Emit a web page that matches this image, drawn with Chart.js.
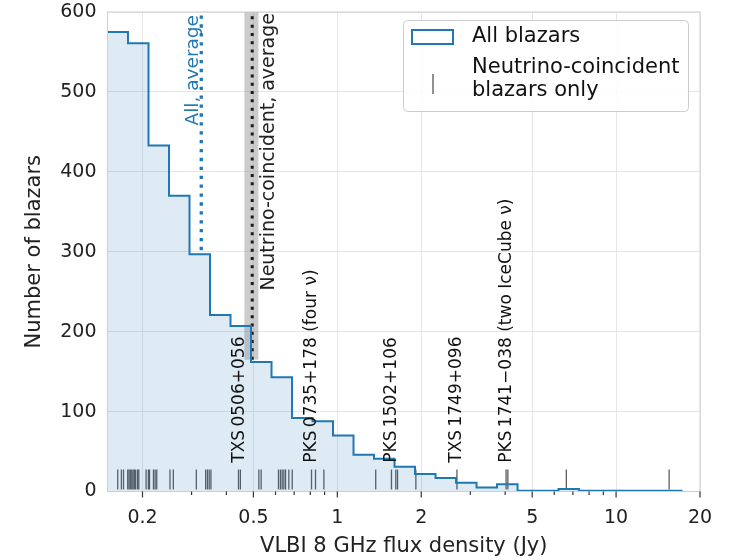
<!DOCTYPE html>
<html lang="en">
<head>
  <meta charset="UTF-8" />
  <title>VLBI 8 GHz flux density of blazars</title>
  <script src="https://cdn.jsdelivr.net/npm/chart.js"></script>
  <style>
    html, body { margin: 0; padding: 0; background: #ffffff; }
    #wrap { width: 738px; height: 560px; }
  </style>
</head>
<body>
  <div id="wrap"><canvas id="fluxChart" width="738" height="560"></canvas></div>

  <script>
    // histogram of all blazars: bin edges (Jy) and counts
    const binEdges = [0.1498, 0.1774, 0.2102, 0.2489, 0.2949, 0.3493, 0.4138, 0.4902,
      0.5807, 0.6879, 0.8148, 0.9650, 1.143, 1.354, 1.604, 1.900, 2.251, 2.666,
      3.158, 3.741, 4.431, 5.248, 6.217, 7.364, 8.723, 10.33, 12.24, 14.50, 17.17];
    const binCounts = [575, 561, 433, 370, 297, 221, 207, 162, 143, 92, 88, 70, 46, 41,
      31, 22, 17, 11, 5, 9, 1, 1, 3, 1, 1, 1, 1, 1];

    // neutrino-coincident blazars (rug ticks)
    const neutrinoFlux = [0.163, 0.168, 0.171, 0.177, 0.179, 0.181, 0.183, 0.185, 0.187,
      0.189, 0.192, 0.194, 0.206, 0.210, 0.212, 0.219, 0.222, 0.225, 0.251, 0.258,
      0.312, 0.337, 0.342, 0.347, 0.352, 0.442, 0.449, 0.523, 0.533, 0.615, 0.625,
      0.634, 0.643, 0.652, 0.670, 0.689, 0.808, 0.835, 0.895, 1.373, 1.564, 1.621,
      1.644, 1.913, 2.686, 4.03, 4.09, 6.63, 15.5];

    // averages: flux and vertical extent (counts)
    const allAverage = 0.325;
    const allAverageSpan = [302, 596];
    const neutrinoAverage = 0.495;
    const neutrinoAverageBand = [0.464, 0.521];
    const neutrinoAverageSpan = [165, 600];

    // labelled sources
    const sourceNames = ['TXS\u20090506+056', 'PKS\u20090735+178 (four \u03bd)', 'PKS\u20091502+106',
      'TXS\u20091749+096', 'PKS\u20091741\u2212038 (two IceCube \u03bd)'];
    const sourceFlux = [0.445, 0.808, 1.564, 2.686, 4.06];

    // axis ticks
    const xMajorTicks = [0.2, 0.5, 1, 2, 5, 10, 20];
    const xMinorTicks = [0.3, 0.4, 0.6, 0.7, 0.8, 0.9, 3, 4, 6, 7, 8, 9];
    const yTicks = [0, 100, 200, 300, 400, 500, 600];

    const blue = '#1f77b4';
    const font = '"DejaVu Sans", sans-serif';

    const histPoints = binCounts.map((c, i) => ({ x: binEdges[i], y: c }));
    histPoints.push({ x: binEdges[binEdges.length - 1], y: binCounts[binCounts.length - 1] });
    histPoints.push({ x: binEdges[binEdges.length - 1], y: 0 });

    function vText(ctx, text, x, y, align, color, size) {
      ctx.save();
      ctx.translate(x, y);
      ctx.rotate(-Math.PI / 2);
      ctx.textAlign = align;
      ctx.textBaseline = 'middle';
      ctx.fillStyle = color;
      ctx.font = size + 'px ' + font;
      ctx.fillText(text, 0, 0);
      ctx.restore();
    }

    const extras = {
      id: 'extras',
      beforeDatasetsDraw(chart) {
        const { ctx, scales: { x, y } } = chart;
        // grey band round the neutrino-coincident average
        const x0 = x.getPixelForValue(neutrinoAverageBand[0]);
        const x1 = x.getPixelForValue(neutrinoAverageBand[1]);
        const y0 = y.getPixelForValue(neutrinoAverageSpan[1]);
        const y1 = y.getPixelForValue(neutrinoAverageSpan[0]);
        ctx.save();
        ctx.fillStyle = 'rgba(128,128,128,0.4)';
        ctx.fillRect(x0, y0, x1 - x0, y1 - y0);
        ctx.restore();
      },
      afterDraw(chart) {
        const { ctx, chartArea: a, scales: { x, y } } = chart;
        ctx.save();
        // frame
        ctx.strokeStyle = '#cfcfcf';
        ctx.lineWidth = 1;
        ctx.strokeRect(a.left, a.top, a.right - a.left, a.bottom - a.top);
        // x tick marks
        ctx.strokeStyle = '#333333';
        ctx.lineWidth = 1.2;
        x.ticks.forEach(t => {
          const px = x.getPixelForValue(t.value);
          const len = xMajorTicks.includes(t.value) ? 6 : 3.5;
          ctx.beginPath();
          ctx.moveTo(px, a.bottom);
          ctx.lineTo(px, a.bottom + len);
          ctx.stroke();
        });
        ctx.restore();

        // average labels
        vText(ctx, 'All, average', x.getPixelForValue(allAverage) - 8, 15, 'right', blue, 18.5);
        vText(ctx, 'Neutrino-coincident, average', x.getPixelForValue(neutrinoAverage) + 17, 13, 'right', '#222222', 19);

        // source labels
        sourceNames.forEach((name, i) => {
          vText(ctx, name, x.getPixelForValue(sourceFlux[i]), y.getPixelForValue(36), 'left', '#111111', 17);
        });

        // legend
        ctx.save();
        ctx.beginPath();
        ctx.roundRect(403.5, 20.5, 285, 91, 4);
        ctx.fillStyle = 'rgba(255,255,255,0.85)';
        ctx.fill();
        ctx.strokeStyle = '#cccccc';
        ctx.lineWidth = 1;
        ctx.stroke();
        ctx.strokeStyle = blue;
        ctx.lineWidth = 2;
        ctx.strokeRect(412, 30, 41, 14);
        ctx.strokeStyle = 'rgba(30,30,30,0.75)';
        ctx.lineWidth = 1.3;
        ctx.beginPath();
        ctx.moveTo(433, 74);
        ctx.lineTo(433, 94);
        ctx.stroke();
        ctx.fillStyle = '#111111';
        ctx.font = '21px ' + font;
        ctx.textBaseline = 'middle';
        ctx.textAlign = 'left';
        ctx.fillText('All blazars', 472, 37);
        ctx.fillText('Neutrino-coincident', 472, 68);
        ctx.fillText('blazars only', 472, 91);
        ctx.restore();
      }
    };

    const ctx = document.getElementById('fluxChart').getContext('2d');
    new Chart(ctx, {
      type: 'line',
      data: {
        datasets: [
          {
            label: 'All blazars',
            data: histPoints,
            stepped: 'before',
            borderColor: blue,
            borderWidth: 2,
            backgroundColor: 'rgba(31,119,180,0.15)',
            fill: 'origin',
            pointRadius: 0
          },
          {
            label: 'Neutrino-coincident blazars only',
            data: neutrinoFlux.map(f => ({ x: f, y: 15 })),
            showLine: false,
            pointStyle: 'line',
            pointRotation: 90,
            pointRadius: 10,
            pointBorderColor: 'rgba(30,30,30,0.72)',
            pointBorderWidth: 1.3
          },
          {
            label: 'All, average',
            data: allAverageSpan.map(v => ({ x: allAverage, y: v })),
            borderColor: blue,
            borderWidth: 3.3,
            borderDash: [3.3, 5.6],
            pointRadius: 0
          },
          {
            label: 'Neutrino-coincident, average',
            data: neutrinoAverageSpan.map(v => ({ x: neutrinoAverage, y: v })),
            borderColor: '#1a1a1a',
            borderWidth: 3,
            borderDash: [3, 5.3],
            pointRadius: 0
          }
        ]
      },
      options: {
        responsive: false,
        animation: false,
        events: [],
        layout: { padding: { top: 12, right: 38, left: 0, bottom: 0 } },
        plugins: { legend: { display: false }, tooltip: { enabled: false } },
        scales: {
          x: {
            type: 'logarithmic',
            min: binEdges[0],
            max: 20,
            afterBuildTicks: s => {
              s.ticks = xMajorTicks.concat(xMinorTicks).sort((a, b) => a - b)
                .map(v => ({ value: v, major: xMajorTicks.includes(v) }));
            },
            afterFit: s => { s.height = 68.5; s.paddingLeft = 0; s.paddingRight = 0; },
            grid: {
              color: c => (c.tick && xMajorTicks.includes(c.tick.value)) ? '#e6e6e6' : 'rgba(0,0,0,0)',
              drawTicks: false
            },
            border: { display: false },
            ticks: {
              autoSkip: false,
              maxRotation: 0,
              padding: 15,
              color: '#222222',
              font: { family: font, size: 19 },
              callback: v => xMajorTicks.includes(v) ? String(v) : ''
            },
            title: {
              display: true,
              text: 'VLBI 8 GHz flux density (Jy)',
              color: '#222222',
              font: { family: font, size: 21 },
              padding: { top: 0, bottom: 1 }
            }
          },
          y: {
            min: 0,
            max: 600,
            afterBuildTicks: s => { s.ticks = yTicks.map(v => ({ value: v })); },
            afterFit: s => { s.width = 107.5; s.paddingTop = 0; s.paddingBottom = 0; },
            grid: { color: '#e6e6e6', drawTicks: false },
            border: { display: false },
            ticks: {
              padding: 11,
              color: '#222222',
              font: { family: font, size: 19 }
            },
            title: {
              display: true,
              text: 'Number of blazars',
              color: '#222222',
              font: { family: font, size: 21 },
              padding: { top: 22, bottom: 0 }
            }
          }
        }
      },
      plugins: [extras]
    });
  </script>
</body>
</html>
